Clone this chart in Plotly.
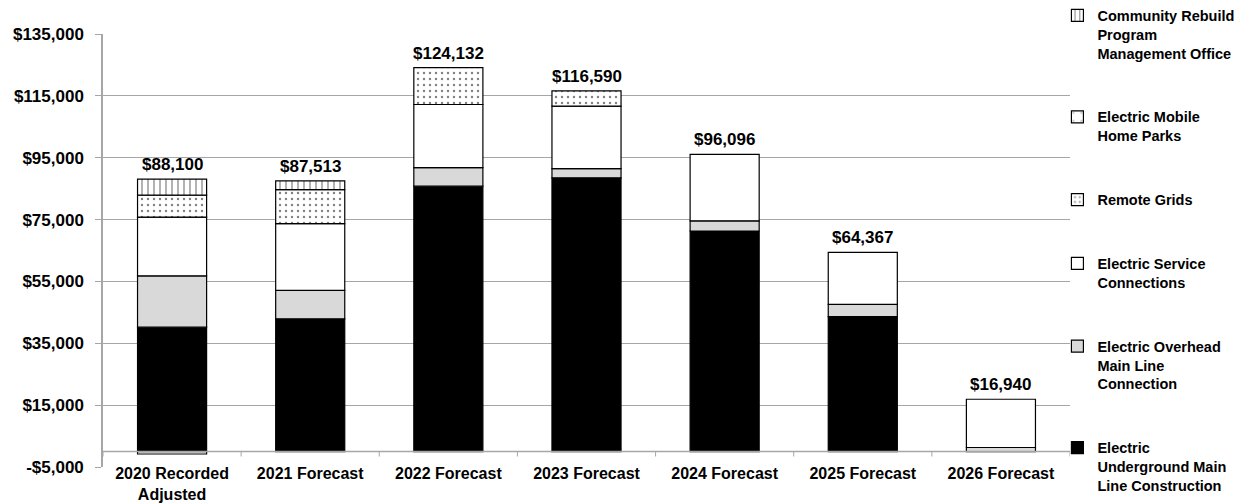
import plotly.graph_objects as go

categories = ["2020 Recorded<br>Adjusted", "2021 Forecast", "2022 Forecast", "2023 Forecast",
              "2024 Forecast", "2025 Forecast", "2026 Forecast"]
underground = [40200, 42900, 85800, 88500, 71300, 43600, None]
overhead = [16600, 9200, 6000, 3000, 3300, 4000, 1300]
service = [19000, 21600, 20400, 20200, 21500, 16800, 15600]
remote = [7100, 11000, 11900, 4900, None, None, None]
mobile = [-800, None, None, None, None, None, None]
rebuild = [5200, 2800, None, None, None, None, None]
totals = [88100, 87513, 124132, 116590, 96096, 64367, 16940]

y_ticks = [-5000, 15000, 35000, 55000, 75000, 95000, 115000, 135000]
y_ticktext = ["-$5,000", "$15,000", "$35,000", "$55,000", "$75,000", "$95,000", "$115,000", "$135,000"]

FONT = "Liberation Sans, Arial, sans-serif"
GRID = "#a6a6a6"

series = [
    ("Electric<br>Underground Main<br>Line Construction", underground, "#000000", None),
    ("Electric Overhead<br>Main Line<br>Connection", overhead, "#d9d9d9", None),
    ("Electric Service<br>Connections", service, "#ffffff", None),
    ("Remote Grids", remote, "#ffffff", dict(shape=".", fgcolor="#000000", bgcolor="#ffffff", size=6, solidity=0.12)),
    ("Electric Mobile<br>Home Parks", mobile, "#ffffff", dict(shape=".", fgcolor="#000000", bgcolor="#ffffff", size=12, solidity=0.03)),
    ("Community Rebuild<br>Program<br>Management Office", rebuild, "#ffffff", dict(shape="|", fgcolor="#000000", bgcolor="#ffffff", size=6, solidity=0.2)),
]

fig = go.Figure()
for i, (name, vals, color, pattern) in enumerate(series):
    marker = dict(color=color, line=dict(color="#000000", width=1.2))
    if pattern:
        marker["pattern"] = pattern
    fig.add_trace(go.Bar(x=categories, y=vals, name=name, marker=marker,
                         legendgroup=str(i), legendrank=100 - i, width=0.5))

annotations = []
for c, t in zip(categories, totals):
    annotations.append(dict(x=c, y=t, xref="x", yref="y", text=f"${t:,}", showarrow=False,
                            yanchor="bottom", yshift=3,
                            font=dict(size=17, color="#000000", family=FONT, weight="bold")))

shapes = []
n = len(categories)
for i in range(n + 1):
    shapes.append(dict(type="line", xref="x", yref="y", x0=i - 0.5, x1=i - 0.5, y0=0, y1=-1600,
                       line=dict(color=GRID, width=1)))
shapes.append(dict(type="line", xref="paper", yref="y", x0=0, x1=1, y0=0, y1=0,
                   line=dict(color=GRID, width=1.5)))

fig.update_layout(
    width=1251, height=504,
    margin=dict(l=103, r=181, t=34, b=37, autoexpand=False),
    barmode="relative",
    plot_bgcolor="#ffffff", paper_bgcolor="#ffffff",
    font=dict(family=FONT, size=15, color="#000000", weight="bold"),
    shapes=shapes,
    annotations=annotations,
    showlegend=True,
    legend=dict(x=0.987, y=1.08, xanchor="left", yanchor="top",
                traceorder="grouped", tracegroupgap=42, valign="top",
                font=dict(size=14.5, family=FONT, weight="bold"),
                itemwidth=30, bgcolor="rgba(0,0,0,0)", maxheight=1.0),
    xaxis=dict(range=[-0.5, n - 0.5], showgrid=False, showline=False, ticks="",
               automargin=False, ticklabelstandoff=-5,
               tickfont=dict(size=16, family=FONT, weight="bold")),
    yaxis=dict(range=[-5000, 135000], tickvals=y_ticks, ticktext=y_ticktext,
               automargin=False,
               showgrid=True, gridcolor=GRID, gridwidth=1, zeroline=False,
               showline=True, linecolor=GRID, linewidth=1.5,
               ticks="outside", ticklen=6, tickcolor=GRID, ticklabelstandoff=8,
               tickfont=dict(size=17, family=FONT, weight="bold")),
)

fig.write_html("out.html")
